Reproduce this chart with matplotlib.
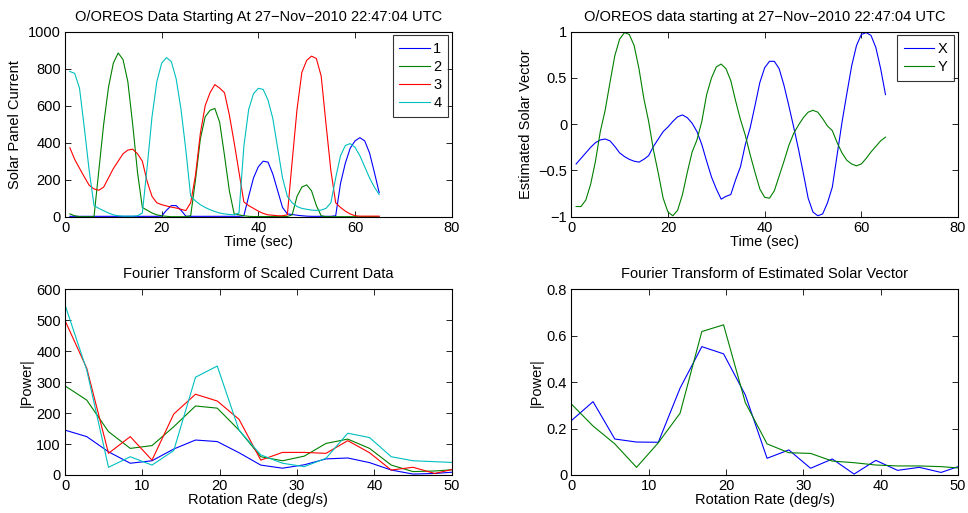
import numpy as np
import matplotlib
matplotlib.use("Agg")
import matplotlib.pyplot as plt

plt.rcParams['font.family'] = ['Liberation Sans', 'DejaVu Sans']

# Time samples (seconds)
t = np.arange(1, 66)

# Solar panel currents for the four panels
panel1 = [2, 2, 2, 2, 2, 2, 2, 2, 2, 2, 2, 2, 2, 2, 2, 2, 2, 2, 2, 3,
          35, 60, 60, 35, 3, 2, 2, 2, 2, 2, 2, 2, 2, 2, 2, 2, 5, 110, 210, 270,
          300, 295, 230, 140, 50, 15, 12, 8, 5, 3, 2, 2, 2, 2, 2, 5, 180, 290, 370, 410,
          427, 410, 345, 240, 130]
panel2 = [15, 5, 0, 0, 0, 0, 250, 500, 700, 830, 885, 850, 730, 500, 240, 50, 35, 20, 10, 5,
          2, 0, 0, 0, 0, 5, 200, 420, 540, 575, 585, 510, 330, 140, 15, 10, 5, 2, 1, 1,
          1, 1, 1, 1, 1, 1, 10, 110, 160, 172, 140, 60, 5, 0, 0, 0, 0, 0, 0, 0,
          0, 0, 0, 0, 0]
panel3 = [373, 310, 262, 215, 170, 150, 143, 160, 210, 260, 300, 340, 360, 365, 340, 300, 190, 110, 75, 65,
          58, 52, 47, 40, 33, 75, 225, 450, 600, 670, 714, 695, 670, 550, 400, 240, 80, 60, 45, 30,
          18, 10, 8, 5, 5, 10, 300, 580, 780, 845, 868, 855, 760, 500, 250, 75, 50, 30, 15, 5,
          3, 3, 3, 3, 3]
panel4 = [785, 775, 695, 480, 250, 60, 45, 32, 20, 10, 5, 3, 3, 3, 5, 20, 270, 540, 730, 830,
          860, 838, 745, 580, 360, 110, 85, 65, 50, 38, 28, 20, 15, 12, 10, 20, 380, 580, 665, 694,
          688, 630, 530, 370, 210, 110, 75, 55, 45, 40, 36, 34, 36, 45, 75, 210, 330, 385, 395, 375,
          330, 270, 210, 160, 120]

# Estimated solar vector components
vec_x = [-0.43, -0.37, -0.31, -0.25, -0.20, -0.17, -0.16, -0.18, -0.24, -0.31,
         -0.35, -0.38, -0.40, -0.41, -0.38, -0.34, -0.24, -0.16, -0.08, -0.03,
         0.03, 0.08, 0.10, 0.07, 0.01, -0.08, -0.22, -0.40, -0.57, -0.70,
         -0.81, -0.78, -0.76, -0.60, -0.46, -0.22, -0.04, 0.20, 0.45, 0.61,
         0.68, 0.68, 0.60, 0.42, 0.20, -0.03, -0.27, -0.53, -0.80, -0.95,
         -0.99, -0.97, -0.85, -0.68, -0.33, 0.02, 0.33, 0.63, 0.85, 0.97,
         0.99, 0.96, 0.83, 0.60, 0.32]
vec_y = [-0.89, -0.89, -0.82, -0.65, -0.40, -0.08, 0.15, 0.45, 0.74, 0.92,
         0.99, 0.97, 0.85, 0.60, 0.28, 0.03, -0.28, -0.53, -0.80, -0.95,
         -0.99, -0.93, -0.76, -0.52, -0.30, -0.17, 0.03, 0.32, 0.50, 0.62,
         0.65, 0.60, 0.47, 0.25, 0.05, -0.12, -0.33, -0.52, -0.70, -0.79,
         -0.80, -0.72, -0.56, -0.40, -0.23, -0.10, -0.01, 0.07, 0.13, 0.15,
         0.13, 0.06, -0.02, -0.07, -0.20, -0.31, -0.39, -0.43, -0.45, -0.43,
         -0.37, -0.30, -0.24, -0.18, -0.14]

# Rotation-rate bins (deg/s): 128-point transform of 1 Hz samples
rate = np.arange(19) * 360.0 / 128

fft1 = [145, 124, 75, 38, 46, 84, 113, 108, 72, 32, 22, 33, 52, 55, 40, 16, 3, 5, 10]
fft2 = [288, 242, 140, 86, 95, 156, 223, 216, 145, 59, 46, 61, 102, 116, 86, 32, 11, 13, 18]
fft3 = [499, 345, 70, 124, 48, 197, 261, 239, 180, 48, 73, 73, 70, 111, 72, 16, 25, 5, 21]
fft4 = [550, 339, 25, 59, 32, 79, 316, 352, 145, 65, 38, 27, 54, 135, 121, 59, 46, 43, 40]

fft_x = [0.234, 0.316, 0.155, 0.142, 0.141, 0.374, 0.553, 0.522, 0.345, 0.072,
         0.108, 0.029, 0.069, 0.004, 0.063, 0.020, 0.033, 0.011, 0.043]
fft_y = [0.306, 0.211, 0.134, 0.033, 0.139, 0.266, 0.618, 0.647, 0.312, 0.134,
         0.096, 0.093, 0.060, 0.053, 0.043, 0.039, 0.039, 0.036, 0.029]

BLUE = (0, 0, 1)
GREEN = (0, 0.5, 0)
RED = (1, 0, 0)
CYAN = (0, 0.75, 0.75)
LW = 0.8
FS = 10.5

fig = plt.figure(figsize=(9.68, 5.13), dpi=100)
W, H = 968, 513


def make_axes(x0, y0, x1, y1):
    return fig.add_axes([x0 / W, 1 - y1 / H, (x1 - x0) / W, (y1 - y0) / H])


def style(ax):
    ax.tick_params(direction='in', top=True, right=True, length=4,
                   width=0.6, labelsize=FS, pad=3)
    for s in ax.spines.values():
        s.set_linewidth(0.8)


def add_legend(ax):
    leg = ax.legend(loc='upper right', fontsize=FS, frameon=True, fancybox=False,
                    edgecolor='black', handlelength=2.1, handletextpad=0.25,
                    borderpad=0.45, labelspacing=0.28, borderaxespad=0.25)
    leg.get_frame().set_linewidth(0.8)
    return leg


ax1 = make_axes(65, 31.7, 451.7, 216.7)
ax2 = make_axes(571.3, 31.7, 958, 216.7)
ax3 = make_axes(65, 289.3, 451.7, 475)
ax4 = make_axes(571.3, 289.3, 958, 475)

# Solar panel currents
for data, c, lab in zip([panel1, panel2, panel3, panel4],
                        [BLUE, GREEN, RED, CYAN], ['1', '2', '3', '4']):
    ax1.plot(t, data, color=c, lw=LW, label=lab)
ax1.set_xlim(0, 80)
ax1.set_ylim(0, 1000)
ax1.set_xticks([0, 20, 40, 60, 80])
ax1.set_yticks([0, 200, 400, 600, 800, 1000])
ax1.set_title('O/OREOS Data Starting At 27\u2212Nov\u22122010 22:47:04 UTC',
              fontsize=FS, pad=8)
ax1.set_xlabel('Time (sec)', fontsize=FS, labelpad=0)
ax1.set_ylabel('Solar Panel Current', fontsize=FS, labelpad=4)
add_legend(ax1)
style(ax1)

# Estimated solar vector
ax2.plot(t, vec_x, color=BLUE, lw=LW, label='X')
ax2.plot(t, vec_y, color=GREEN, lw=LW, label='Y')
ax2.set_xlim(0, 80)
ax2.set_ylim(-1, 1)
ax2.set_xticks([0, 20, 40, 60, 80])
ax2.set_yticks([-1, -0.5, 0, 0.5, 1])
ax2.set_yticklabels(['\u22121', '\u22120.5', '0', '0.5', '1'])
ax2.set_title('O/OREOS data starting at 27\u2212Nov\u22122010 22:47:04 UTC',
              fontsize=FS, pad=8)
ax2.set_xlabel('Time (sec)', fontsize=FS, labelpad=0)
ax2.set_ylabel('Estimated Solar Vector', fontsize=FS, labelpad=4)
add_legend(ax2)
style(ax2)

# Spectrum of the panel currents
for data, c in zip([fft1, fft2, fft3, fft4], [BLUE, GREEN, RED, CYAN]):
    ax3.plot(rate, data, color=c, lw=LW)
ax3.set_xlim(0, 50)
ax3.set_ylim(0, 600)
ax3.set_xticks([0, 10, 20, 30, 40, 50])
ax3.set_yticks(range(0, 601, 100))
ax3.set_title('Fourier Transform of Scaled Current Data', fontsize=FS, pad=8)
ax3.set_xlabel('Rotation Rate (deg/s)', fontsize=FS, labelpad=0)
ax3.set_ylabel('|Power|', fontsize=FS, labelpad=2)
style(ax3)

# Spectrum of the solar vector
ax4.plot(rate, fft_x, color=BLUE, lw=LW)
ax4.plot(rate, fft_y, color=GREEN, lw=LW)
ax4.set_xlim(0, 50)
ax4.set_ylim(0, 0.8)
ax4.set_xticks([0, 10, 20, 30, 40, 50])
ax4.set_yticks([0, 0.2, 0.4, 0.6, 0.8])
ax4.set_yticklabels(['0', '0.2', '0.4', '0.6', '0.8'])
ax4.set_title('Fourier Transform of Estimated Solar Vector', fontsize=FS, pad=8)
ax4.set_xlabel('Rotation Rate (deg/s)', fontsize=FS, labelpad=0)
ax4.set_ylabel('|Power|', fontsize=FS, labelpad=2)
style(ax4)

fig.savefig('out.png', dpi=100)
